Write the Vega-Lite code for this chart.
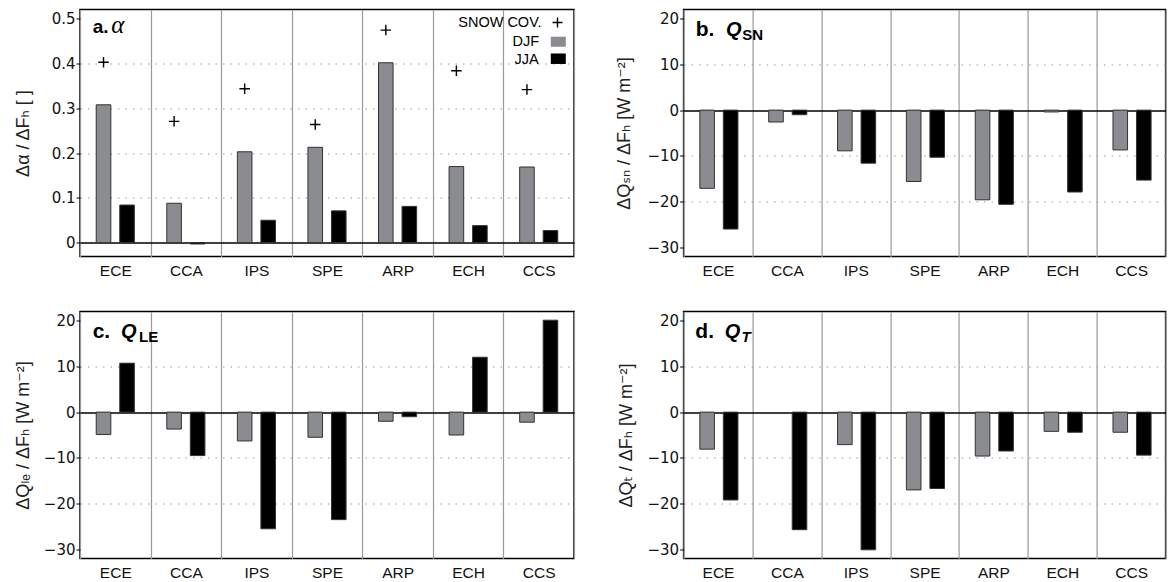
{
  "$schema": "https://vega.github.io/schema/vega-lite/v6.json",
  "background": "white",
  "padding": {"left": 13, "top": 8.5, "right": 0, "bottom": 0},
  "columns": 2,
  "spacing": {"row": 30, "column": 39.6},
  "datasets": {
    "bars": [
      {"panel": "a", "model": "ECE", "season": "DJF", "value": 0.308},
      {"panel": "a", "model": "CCA", "season": "DJF", "value": 0.088},
      {"panel": "a", "model": "IPS", "season": "DJF", "value": 0.203},
      {"panel": "a", "model": "SPE", "season": "DJF", "value": 0.213},
      {"panel": "a", "model": "ARP", "season": "DJF", "value": 0.402},
      {"panel": "a", "model": "ECH", "season": "DJF", "value": 0.170},
      {"panel": "a", "model": "CCS", "season": "DJF", "value": 0.169},
      {"panel": "a", "model": "ECE", "season": "JJA", "value": 0.084},
      {"panel": "a", "model": "CCA", "season": "JJA", "value": -0.003},
      {"panel": "a", "model": "IPS", "season": "JJA", "value": 0.050},
      {"panel": "a", "model": "SPE", "season": "JJA", "value": 0.071},
      {"panel": "a", "model": "ARP", "season": "JJA", "value": 0.081},
      {"panel": "a", "model": "ECH", "season": "JJA", "value": 0.038},
      {"panel": "a", "model": "CCS", "season": "JJA", "value": 0.027},
      {"panel": "b", "model": "ECE", "season": "DJF", "value": -17.1},
      {"panel": "b", "model": "CCA", "season": "DJF", "value": -2.6},
      {"panel": "b", "model": "IPS", "season": "DJF", "value": -8.9},
      {"panel": "b", "model": "SPE", "season": "DJF", "value": -15.6},
      {"panel": "b", "model": "ARP", "season": "DJF", "value": -19.6},
      {"panel": "b", "model": "ECH", "season": "DJF", "value": -0.4},
      {"panel": "b", "model": "CCS", "season": "DJF", "value": -8.7},
      {"panel": "b", "model": "ECE", "season": "JJA", "value": -26.0},
      {"panel": "b", "model": "CCA", "season": "JJA", "value": -1.0},
      {"panel": "b", "model": "IPS", "season": "JJA", "value": -11.6},
      {"panel": "b", "model": "SPE", "season": "JJA", "value": -10.3},
      {"panel": "b", "model": "ARP", "season": "JJA", "value": -20.6},
      {"panel": "b", "model": "ECH", "season": "JJA", "value": -17.9},
      {"panel": "b", "model": "CCS", "season": "JJA", "value": -15.3},
      {"panel": "c", "model": "ECE", "season": "DJF", "value": -4.9},
      {"panel": "c", "model": "CCA", "season": "DJF", "value": -3.7},
      {"panel": "c", "model": "IPS", "season": "DJF", "value": -6.3},
      {"panel": "c", "model": "SPE", "season": "DJF", "value": -5.5},
      {"panel": "c", "model": "ARP", "season": "DJF", "value": -2.0},
      {"panel": "c", "model": "ECH", "season": "DJF", "value": -5.0},
      {"panel": "c", "model": "CCS", "season": "DJF", "value": -2.2},
      {"panel": "c", "model": "ECE", "season": "JJA", "value": 10.7},
      {"panel": "c", "model": "CCA", "season": "JJA", "value": -9.5},
      {"panel": "c", "model": "IPS", "season": "JJA", "value": -25.5},
      {"panel": "c", "model": "SPE", "season": "JJA", "value": -23.5},
      {"panel": "c", "model": "ARP", "season": "JJA", "value": -1.0},
      {"panel": "c", "model": "ECH", "season": "JJA", "value": 12.0},
      {"panel": "c", "model": "CCS", "season": "JJA", "value": 20.1},
      {"panel": "d", "model": "ECE", "season": "DJF", "value": -8.1},
      {"panel": "d", "model": "IPS", "season": "DJF", "value": -7.1},
      {"panel": "d", "model": "SPE", "season": "DJF", "value": -17.0},
      {"panel": "d", "model": "ARP", "season": "DJF", "value": -9.6},
      {"panel": "d", "model": "ECH", "season": "DJF", "value": -4.2},
      {"panel": "d", "model": "CCS", "season": "DJF", "value": -4.4},
      {"panel": "d", "model": "ECE", "season": "JJA", "value": -19.2},
      {"panel": "d", "model": "CCA", "season": "JJA", "value": -25.7},
      {"panel": "d", "model": "IPS", "season": "JJA", "value": -30.1},
      {"panel": "d", "model": "SPE", "season": "JJA", "value": -16.7},
      {"panel": "d", "model": "ARP", "season": "JJA", "value": -8.5},
      {"panel": "d", "model": "ECH", "season": "JJA", "value": -4.4},
      {"panel": "d", "model": "CCS", "season": "JJA", "value": -9.4}
    ],
    "snow": [
      {"model": "ECE", "value": 0.403},
      {"model": "CCA", "value": 0.271},
      {"model": "IPS", "value": 0.344},
      {"model": "SPE", "value": 0.264},
      {"model": "ARP", "value": 0.475},
      {"model": "ECH", "value": 0.384},
      {"model": "CCS", "value": 0.342}
    ],
    "one": [{}]
  },
  "concat": [
    {
      "width": 494, "height": 247,
      "layer": [
        {
          "data": {"name": "bars"},
          "transform": [{"filter": "datum.panel === 'a'"}],
          "mark": {"type": "bar", "stroke": "#333333", "strokeWidth": 1},
          "encoding": {
            "x": {"field": "model", "type": "nominal", "sort": ["ECE","CCA","IPS","SPE","ARP","ECH","CCS"], "scale": {"domain": ["ECE","CCA","IPS","SPE","ARP","ECH","CCS"], "paddingInner": 0, "paddingOuter": 0}},
            "xOffset": {"field": "season", "type": "nominal", "scale": {"domain": ["DJF","JJA"], "paddingInner": 0.38, "paddingOuter": 0.69}},
            "y": {"field": "value", "type": "quantitative", "scale": {"domain": [-0.031, 0.521], "nice": false},
              "axis": {"title": "Δα  /  ΔFₕ   [   ]", "values": [0, 0.1, 0.2, 0.3, 0.4, 0.5], "format": ".1~f", "titlePadding": 18.8, "titleFontSize": 18,
                "gridColor": {"condition": {"test": "datum.value === 0", "value": "#000000"}, "value": "#999999"},
                "gridDash": {"condition": {"test": "datum.value === 0", "value": []}, "value": [1.5, 6]},
                "gridWidth": {"condition": {"test": "datum.value === 0", "value": 1.5}, "value": 1},
                "gridOpacity": {"condition": {"test": "datum.value > 0.45", "value": 0}, "value": 1}}},
            "color": {"field": "season", "type": "nominal", "scale": {"domain": ["DJF","JJA"], "range": ["#8a8c90","#000000"]}, "legend": null}
          }
        },
        {
          "data": {"name": "snow"},
          "mark": {"type": "point", "shape": "M-1,0H1M0,-1V1", "filled": false, "color": "black", "strokeWidth": 1.4, "size": 110, "opacity": 1},
          "encoding": {
            "x": {"field": "model", "type": "nominal", "sort": ["ECE","CCA","IPS","SPE","ARP","ECH","CCS"]},
            "xOffset": {"datum": "DJF"},
            "y": {"field": "value", "type": "quantitative"}
          }
        },
        {"data": {"name": "one"}, "mark": {"type": "text", "text": "a.", "font": "Liberation Sans", "fontWeight": "bold", "fontSize": 19, "align": "left", "baseline": "alphabetic", "dx": -22.6, "color": "black"},
          "encoding": {"x": {"datum": "ECE"}, "y": {"datum": 0.468}}},
        {"data": {"name": "one"}, "mark": {"type": "text", "text": "α", "font": "Liberation Serif", "fontStyle": "italic", "fontSize": 25, "align": "left", "baseline": "alphabetic", "dx": -4, "color": "black"},
          "encoding": {"x": {"datum": "ECE"}, "y": {"datum": 0.468}}},
        {"data": {"name": "one"}, "mark": {"type": "text", "text": "SNOW COV.", "font": "Liberation Sans", "fontSize": 14.5, "align": "right", "baseline": "middle", "dx": 2.8, "color": "black"},
          "encoding": {"x": {"datum": "CCS"}, "y": {"datum": 0.490}}},
        {"data": {"name": "one"}, "mark": {"type": "text", "text": "DJF", "font": "Liberation Sans", "fontSize": 14.5, "align": "right", "baseline": "middle", "dx": 0.4, "color": "black"},
          "encoding": {"x": {"datum": "CCS"}, "y": {"datum": 0.449}}},
        {"data": {"name": "one"}, "mark": {"type": "text", "text": "JJA", "font": "Liberation Sans", "fontSize": 14.5, "align": "right", "baseline": "middle", "dx": 0, "color": "black"},
          "encoding": {"x": {"datum": "CCS"}, "y": {"datum": 0.408}}},
        {"data": {"name": "one"}, "mark": {"type": "point", "shape": "M2.76,0H4.76M3.76,-1V1", "filled": false, "color": "black", "strokeWidth": 1.4, "size": 100, "opacity": 1},
          "encoding": {"x": {"datum": "CCS"}, "y": {"datum": 0.492}}},
        {"data": {"name": "one"}, "mark": {"type": "point", "shape": "M1.61,-0.67H3.61V0.67H1.61Z", "filled": true, "color": "#8a8c90", "size": 225, "opacity": 1},
          "encoding": {"x": {"datum": "CCS"}, "y": {"datum": 0.449}}},
        {"data": {"name": "one"}, "mark": {"type": "point", "shape": "M1.61,-0.7H3.61V0.7H1.61Z", "filled": true, "color": "#000000", "size": 225, "opacity": 1},
          "encoding": {"x": {"datum": "CCS"}, "y": {"datum": 0.411}}}
      ]
    },
    {
      "width": 482, "height": 247,
      "layer": [
        {
          "data": {"name": "bars"},
          "transform": [{"filter": "datum.panel === 'b'"}],
          "mark": {"type": "bar", "stroke": "#333333", "strokeWidth": 1},
          "encoding": {
            "x": {"field": "model", "type": "nominal", "sort": ["ECE","CCA","IPS","SPE","ARP","ECH","CCS"], "scale": {"domain": ["ECE","CCA","IPS","SPE","ARP","ECH","CCS"], "paddingInner": 0, "paddingOuter": 0}},
            "xOffset": {"field": "season", "type": "nominal", "scale": {"domain": ["DJF","JJA"], "paddingInner": 0.38, "paddingOuter": 0.69}},
            "y": {"field": "value", "type": "quantitative", "scale": {"domain": [-32, 22], "nice": false},
              "axis": {"title": "ΔQₛₙ  /  ΔFₕ   [W m⁻²]", "values": [-30, -20, -10, 0, 10, 20], "titlePadding": 13, "titleFontSize": 18,
                "gridColor": {"condition": {"test": "datum.value === 0", "value": "#000000"}, "value": "#999999"},
                "gridDash": {"condition": {"test": "datum.value === 0", "value": []}, "value": [1.5, 6]},
                "gridWidth": {"condition": {"test": "datum.value === 0", "value": 1.5}, "value": 1},
                "gridOpacity": {"condition": {"test": "datum.value >= 20 || datum.value <= -30", "value": 0}, "value": 1}}},
            "color": {"field": "season", "type": "nominal", "scale": {"domain": ["DJF","JJA"], "range": ["#8a8c90","#000000"]}, "legend": null}
          }
        },
        {"data": {"name": "one"}, "mark": {"type": "text", "text": "b.", "font": "Liberation Sans", "fontWeight": "bold", "fontSize": 21, "align": "left", "baseline": "alphabetic", "dx": -22.4, "color": "black"},
          "encoding": {"x": {"datum": "ECE"}, "y": {"datum": 16.3}}},
        {"data": {"name": "one"}, "mark": {"type": "text", "text": "Q", "font": "Liberation Sans", "fontWeight": "bold", "fontStyle": "italic", "fontSize": 20, "align": "left", "baseline": "alphabetic", "dx": 8, "color": "black"},
          "encoding": {"x": {"datum": "ECE"}, "y": {"datum": 16.3}}},
        {"data": {"name": "one"}, "mark": {"type": "text", "text": "SN", "font": "Liberation Sans", "fontWeight": "bold", "fontSize": 15, "align": "left", "baseline": "alphabetic", "dx": 24.3, "dy": 4, "color": "black"},
          "encoding": {"x": {"datum": "ECE"}, "y": {"datum": 16.3}}}
      ]
    },
    {
      "width": 494, "height": 247,
      "layer": [
        {
          "data": {"name": "bars"},
          "transform": [{"filter": "datum.panel === 'c'"}],
          "mark": {"type": "bar", "stroke": "#333333", "strokeWidth": 1},
          "encoding": {
            "x": {"field": "model", "type": "nominal", "sort": ["ECE","CCA","IPS","SPE","ARP","ECH","CCS"], "scale": {"domain": ["ECE","CCA","IPS","SPE","ARP","ECH","CCS"], "paddingInner": 0, "paddingOuter": 0}},
            "xOffset": {"field": "season", "type": "nominal", "scale": {"domain": ["DJF","JJA"], "paddingInner": 0.38, "paddingOuter": 0.69}},
            "y": {"field": "value", "type": "quantitative", "scale": {"domain": [-32, 22], "nice": false},
              "axis": {"title": "ΔQₗₑ  /  ΔFₕ   [W m⁻²]", "values": [-30, -20, -10, 0, 10, 20], "titlePadding": 11, "titleFontSize": 18,
                "gridColor": {"condition": {"test": "datum.value === 0", "value": "#000000"}, "value": "#999999"},
                "gridDash": {"condition": {"test": "datum.value === 0", "value": []}, "value": [1.5, 6]},
                "gridWidth": {"condition": {"test": "datum.value === 0", "value": 1.5}, "value": 1},
                "gridOpacity": {"condition": {"test": "datum.value >= 20 || datum.value <= -30", "value": 0}, "value": 1}}},
            "color": {"field": "season", "type": "nominal", "scale": {"domain": ["DJF","JJA"], "range": ["#8a8c90","#000000"]}, "legend": null}
          }
        },
        {"data": {"name": "one"}, "mark": {"type": "text", "text": "c.", "font": "Liberation Sans", "fontWeight": "bold", "fontSize": 21, "align": "left", "baseline": "alphabetic", "dx": -22.6, "color": "black"},
          "encoding": {"x": {"datum": "ECE"}, "y": {"datum": 16.3}}},
        {"data": {"name": "one"}, "mark": {"type": "text", "text": "Q", "font": "Liberation Sans", "fontWeight": "bold", "fontStyle": "italic", "fontSize": 20, "align": "left", "baseline": "alphabetic", "dx": 5.6, "color": "black"},
          "encoding": {"x": {"datum": "ECE"}, "y": {"datum": 16.3}}},
        {"data": {"name": "one"}, "mark": {"type": "text", "text": "LE", "font": "Liberation Sans", "fontWeight": "bold", "fontSize": 15, "align": "left", "baseline": "alphabetic", "dx": 23.7, "dy": 4, "color": "black"},
          "encoding": {"x": {"datum": "ECE"}, "y": {"datum": 16.3}}}
      ]
    },
    {
      "width": 482, "height": 247,
      "layer": [
        {
          "data": {"name": "bars"},
          "transform": [{"filter": "datum.panel === 'd'"}],
          "mark": {"type": "bar", "stroke": "#333333", "strokeWidth": 1},
          "encoding": {
            "x": {"field": "model", "type": "nominal", "sort": ["ECE","CCA","IPS","SPE","ARP","ECH","CCS"], "scale": {"domain": ["ECE","CCA","IPS","SPE","ARP","ECH","CCS"], "paddingInner": 0, "paddingOuter": 0}},
            "xOffset": {"field": "season", "type": "nominal", "scale": {"domain": ["DJF","JJA"], "paddingInner": 0.38, "paddingOuter": 0.69}},
            "y": {"field": "value", "type": "quantitative", "scale": {"domain": [-32, 22], "nice": false},
              "axis": {"title": "ΔQₜ  /  ΔFₕ   [W m⁻²]", "values": [-30, -20, -10, 0, 10, 20], "titlePadding": 11, "titleFontSize": 18,
                "gridColor": {"condition": {"test": "datum.value === 0", "value": "#000000"}, "value": "#999999"},
                "gridDash": {"condition": {"test": "datum.value === 0", "value": []}, "value": [1.5, 6]},
                "gridWidth": {"condition": {"test": "datum.value === 0", "value": 1.5}, "value": 1},
                "gridOpacity": {"condition": {"test": "datum.value >= 20 || datum.value <= -30", "value": 0}, "value": 1}}},
            "color": {"field": "season", "type": "nominal", "scale": {"domain": ["DJF","JJA"], "range": ["#8a8c90","#000000"]}, "legend": null}
          }
        },
        {"data": {"name": "one"}, "mark": {"type": "text", "text": "d.", "font": "Liberation Sans", "fontWeight": "bold", "fontSize": 21, "align": "left", "baseline": "alphabetic", "dx": -22.7, "color": "black"},
          "encoding": {"x": {"datum": "ECE"}, "y": {"datum": 16.3}}},
        {"data": {"name": "one"}, "mark": {"type": "text", "text": "Q", "font": "Liberation Sans", "fontWeight": "bold", "fontStyle": "italic", "fontSize": 20, "align": "left", "baseline": "alphabetic", "dx": 6.8, "color": "black"},
          "encoding": {"x": {"datum": "ECE"}, "y": {"datum": 16.3}}},
        {"data": {"name": "one"}, "mark": {"type": "text", "text": "T", "font": "Liberation Sans", "fontWeight": "bold", "fontStyle": "italic", "fontSize": 15, "align": "left", "baseline": "alphabetic", "dx": 23.5, "dy": 4, "color": "black"},
          "encoding": {"x": {"datum": "ECE"}, "y": {"datum": 16.3}}}
      ]
    }
  ],
  "config": {
    "view": {"stroke": "black", "strokeWidth": 1.5},
    "axisX": {"title": null, "domain": false, "ticks": false, "labelPadding": 7, "labelFont": "Liberation Sans", "labelFontSize": 15.5, "labelColor": "#111111", "labelAngle": 0, "grid": true, "tickBand": "extent", "gridColor": "#9a9a9a", "gridWidth": 1.2},
    "axisY": {"domain": false, "ticks": true, "tickSize": 4, "tickColor": "black", "tickWidth": 1, "labelPadding": 1, "labelFont": "DejaVu Sans", "labelFontSize": 15, "labelColor": "#111111", "grid": true, "titleFont": "Liberation Sans, DejaVu Sans", "titleFontSize": 18, "titleFontWeight": "normal", "titleColor": "#222222"}
  }
}
